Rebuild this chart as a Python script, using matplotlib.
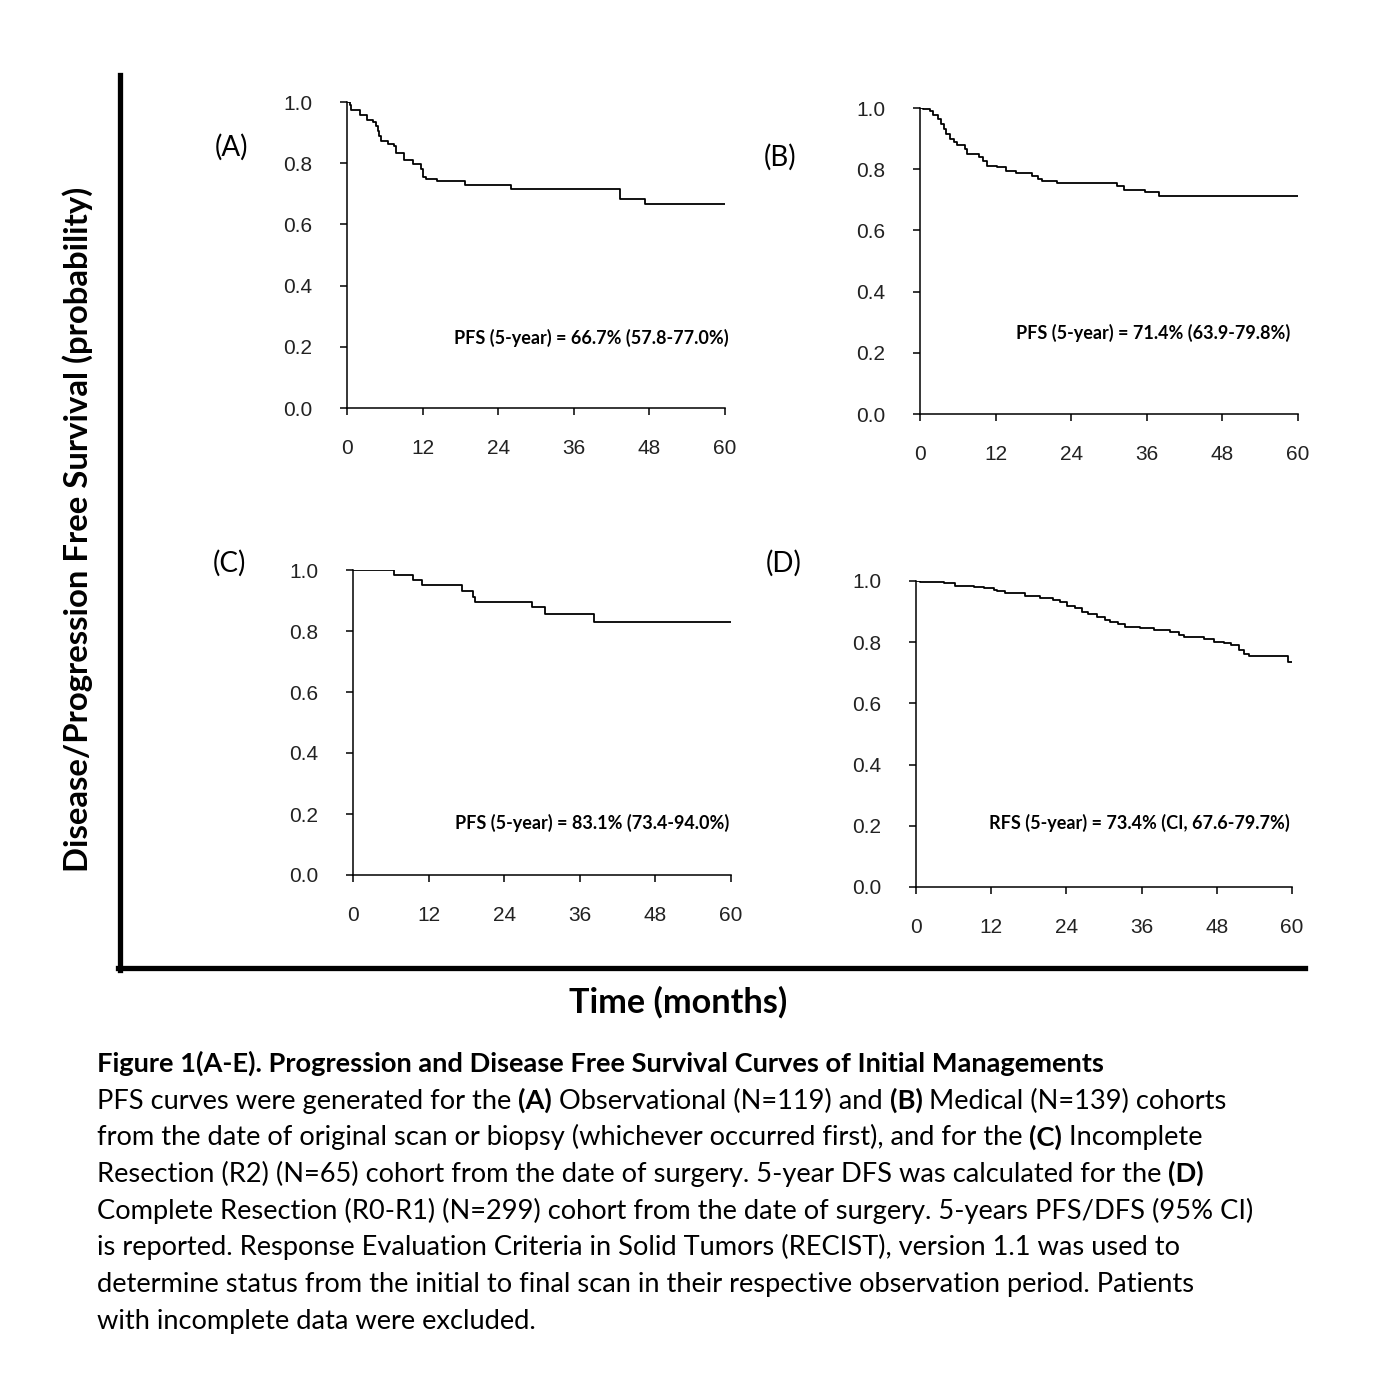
import matplotlib.pyplot as plt
from matplotlib.lines import Line2D

# ---- data (months, survival probability) ----
a_time = [0, 0.4, 0.7, 2.1, 3.1, 4.1, 4.6, 4.9, 5.1, 5.4, 6.5, 7.5, 7.8, 9.1, 10.4, 11.8,
          12.0, 12.6, 14.3, 18.8, 26.0, 43.3, 47.3, 60]
a_surv = [1.0, 0.99, 0.975, 0.958, 0.942, 0.934, 0.92, 0.905, 0.89, 0.874, 0.863, 0.855,
          0.832, 0.81, 0.798, 0.782, 0.756, 0.749, 0.741, 0.728, 0.717, 0.684, 0.667, 0.667]

b_time = [0, 0.5, 1.6, 2.1, 2.9, 3.4, 3.8, 4.2, 4.8, 5.4, 5.9, 7.1, 7.5, 9.3, 10.0, 10.6,
          12.2, 13.7, 15.3, 17.7, 18.8, 19.3, 21.8, 31.2, 32.4, 35.7, 38.0, 60]
b_surv = [1.0, 0.996, 0.99, 0.976, 0.965, 0.948, 0.932, 0.916, 0.899, 0.89, 0.879, 0.866,
          0.85, 0.839, 0.828, 0.811, 0.806, 0.795, 0.787, 0.778, 0.768, 0.762, 0.754, 0.746,
          0.732, 0.724, 0.714, 0.714]

c_time = [0, 6.5, 9.5, 11.0, 17.3, 19.1, 19.3, 28.4, 30.5, 38.2, 60]
c_surv = [1.0, 0.984, 0.967, 0.951, 0.931, 0.913, 0.896, 0.878, 0.855, 0.831, 0.831]

d_time = [0, 0.6, 4.4, 6.2, 9.2, 10.8, 12.4, 12.9, 14.2, 17.4, 19.8, 21.9, 23.0, 24.1, 25.4,
          26.5, 27.5, 28.9, 30.2, 31.0, 32.3, 33.4, 35.8, 37.9, 40.6, 41.9, 42.7, 45.9, 47.5,
          49.1, 50.2, 51.5, 52.4, 53.2, 59.3, 60]
d_surv = [1.0, 0.996, 0.992, 0.985, 0.981, 0.978, 0.971, 0.967, 0.96, 0.952, 0.945, 0.938,
          0.93, 0.919, 0.911, 0.9, 0.891, 0.883, 0.872, 0.865, 0.858, 0.851, 0.845, 0.84,
          0.834, 0.823, 0.818, 0.812, 0.802, 0.796, 0.791, 0.774, 0.763, 0.756, 0.734, 0.734]

x_ticks = [0, 12, 24, 36, 48, 60]
y_ticks = [0.0, 0.2, 0.4, 0.6, 0.8, 1.0]
panel_tags = ['(A)', '(B)', '(C)', '(D)']
panel_notes = ['PFS (5-year) = 66.7% (57.8-77.0%)',
               'PFS (5-year) = 71.4% (63.9-79.8%)',
               'PFS (5-year) = 83.1% (73.4-94.0%)',
               'RFS (5-year) = 73.4% (CI, 67.6-79.7%)']

W, H = 1378, 1392
fig = plt.figure(figsize=(W / 100, H / 100), dpi=100)

def fx(px):
    return px / W

def fy(py):
    return 1 - py / H

# axes boxes in pixels: left, right, y of 1.0, y of 0.0
boxes = [(347, 725, 102, 408), (920, 1298, 108, 414),
         (353, 731, 570, 875), (916, 1292, 581, 887)]
curves = [(a_time, a_surv), (b_time, b_surv), (c_time, c_surv), (d_time, d_surv)]
note_pos = [(60.5, 0.229), (58.7, 0.265), (59.8, 0.17), (59.7, 0.209)]
tag_pos = [(232, 147), (780, 157), (229, 563), (784, 563)]

for i in range(4):
    l, r, top, bot = boxes[i]
    ax = fig.add_axes([fx(l), fy(bot), (r - l) / W, (bot - top) / H])
    t, s = curves[i]
    ax.step(t, s, where='post', color='black', lw=1.3)
    ax.set_xlim(0, 60)
    ax.set_ylim(0, 1)
    ax.set_xticks(x_ticks)
    ax.set_yticks(y_ticks)
    ax.set_yticklabels(['%.1f' % v for v in y_ticks])
    ax.spines['top'].set_visible(False)
    ax.spines['right'].set_visible(False)
    ax.spines['left'].set_linewidth(1.1)
    ax.spines['bottom'].set_linewidth(1.1)
    ax.tick_params(axis='x', direction='out', length=5, width=1.1, pad=17.5,
                   labelsize=15, labelcolor='#222222')
    ax.tick_params(axis='y', direction='out', length=5, width=1.1, pad=20,
                   labelsize=15, labelcolor='#222222')
    for lab in ax.get_xticklabels() + ax.get_yticklabels():
        lab.set_fontfamily('Liberation Sans')
    ax.patch.set_alpha(0)
    ax.text(note_pos[i][0], note_pos[i][1], panel_notes[i], ha='right', va='center',
            fontsize=13, fontweight='bold', family='Lato')
    fig.text(fx(tag_pos[i][0]), fy(tag_pos[i][1]), panel_tags[i], ha='center', va='center',
             fontsize=20, family='Lato')

# big outer axes
fig.add_artist(Line2D([fx(120), fx(120)], [fy(75), fy(970)], color='black', lw=3.8))
fig.add_artist(Line2D([fx(118), fx(1305)], [fy(968), fy(968)], color='black', lw=3.8))
fig.text(fx(78), fy(529), 'Disease/Progression Free Survival (probability)', rotation=90,
         ha='center', va='center', fontsize=23.7, fontweight='bold', family='Lato')
fig.text(fx(678), fy(1002), 'Time (months)', ha='center', va='center',
         fontsize=24.7, fontweight='bold', family='Lato')

# caption with mixed bold segments
caption = [
    [('Figure 1(A-E). Progression and Disease Free Survival Curves of Initial Managements', True)],
    [('PFS curves were generated for the ', False), ('(A)', True),
     (' Observational (N=119) and ', False), ('(B)', True), (' Medical (N=139) cohorts', False)],
    [('from the date of original scan or biopsy (whichever occurred first), and for the ', False),
     ('(C)', True), (' Incomplete', False)],
    [('Resection (R2) (N=65) cohort from the date of surgery. 5-year DFS was calculated for the ', False),
     ('(D)', True)],
    [('Complete Resection (R0-R1) (N=299) cohort from the date of surgery. 5-years PFS/DFS (95% CI)', False)],
    [('is reported. Response Evaluation Criteria in Solid Tumors (RECIST), version 1.1 was used to', False)],
    [('determine status from the initial to final scan in their respective observation period. Patients', False)],
    [('with incomplete data were excluded.', False)],
]
renderer = fig.canvas.get_renderer()
base0 = 1072
for k, line in enumerate(caption):
    x = 97
    for seg, bold in line:
        t = fig.text(fx(x), fy(base0 + k * 36.7), seg, ha='left', va='baseline', fontsize=19.6,
                     fontweight='bold' if bold else 'normal', family='Lato')
        x += t.get_window_extent(renderer).width

fig.savefig('out.png', dpi=100, facecolor='white')
